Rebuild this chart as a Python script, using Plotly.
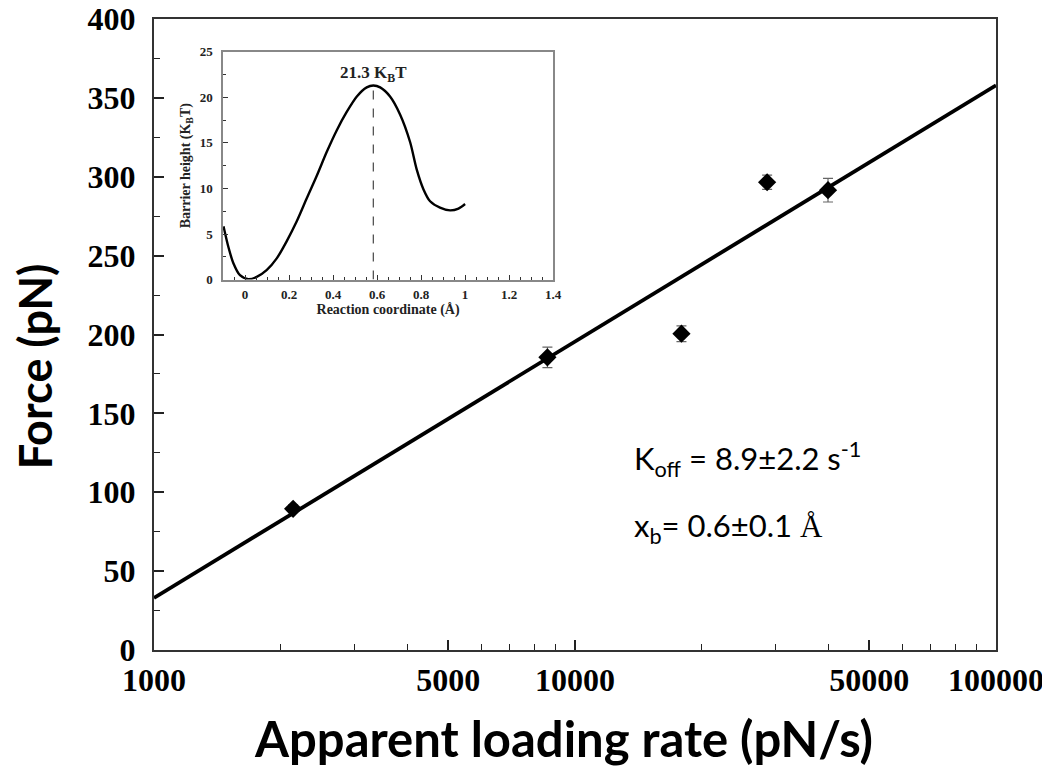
import plotly.graph_objects as go

# Main data: apparent loading rate (pN/s) vs rupture force (pN)
loading_rate = [2140, 8600, 17900, 28600, 39900]
force = [89.5, 185.5, 200.5, 296.5, 291.5]
force_err = [2.5, 6.5, 5.0, 4.5, 7.5]

# Linear fit in log(rate)
fit_rate = [1000, 100000]
fit_force = [33, 358]

# Inset: energy landscape (reaction coordinate in Å, barrier in K_BT)
coord = [-0.098, -0.076, -0.053, -0.023, 0.015, 0.053, 0.098, 0.144, 0.189, 0.235,
         0.28, 0.326, 0.371, 0.417, 0.462, 0.508, 0.553, 0.583, 0.614, 0.659,
         0.705, 0.75, 0.78, 0.811, 0.841, 0.886, 0.932, 0.97, 1.0]
barrier = [5.85, 3.6, 1.8, 0.48, 0.04, 0.3, 1.04, 2.33, 4.2, 6.4,
           8.9, 11.4, 14.0, 16.4, 18.4, 20.1, 21.1, 21.3, 21.1, 20.1,
           18.1, 15.1, 12.1, 9.9, 8.6, 7.9, 7.6, 7.8, 8.3]
peak_x = [0.583, 0.583]
peak_y = [0, 21.3]

x_tickvals = [1000, 5000, 10000, 50000, 100000]
x_minor = [2000, 3000, 4000, 6000, 7000, 8000, 9000,
           20000, 30000, 40000, 60000, 70000, 80000, 90000]
inset_xticks = [0, 0.2, 0.4, 0.6, 0.8, 1, 1.2, 1.4]

serif_b = "Liberation Serif"
sans = "Lato"

fig = go.Figure()

fig.add_trace(go.Scatter(
    x=fit_rate, y=fit_force, mode="lines",
    line=dict(color="black", width=3.8), showlegend=False))

fig.add_trace(go.Scatter(
    x=loading_rate, y=force, mode="markers",
    marker=dict(symbol="diamond", size=14, color="black"),
    error_y=dict(type="data", array=force_err, color="#666", thickness=1.2, width=5),
    showlegend=False))

fig.add_trace(go.Scatter(
    x=coord, y=barrier, mode="lines",
    line=dict(color="black", width=2.4, shape="spline", smoothing=0.8),
    xaxis="x2", yaxis="y2", showlegend=False))

fig.add_trace(go.Scatter(
    x=peak_x, y=peak_y, mode="lines", line=dict(color="#555", width=1.3, dash="dash"),
    xaxis="x2", yaxis="y2", showlegend=False))

fig.update_layout(
    width=1042, height=761,
    margin=dict(l=146, r=54, t=11, b=119),
    paper_bgcolor="white", plot_bgcolor="white",
    xaxis=dict(
        type="log", range=[3, 5], tickvals=x_tickvals,
        ticktext=[str(v) for v in x_tickvals],
        ticks="inside", ticklen=10, tickwidth=1.5, tickcolor="#222",
        minor=dict(tickvals=x_minor, ticks="inside", ticklen=6, tickwidth=1.2, tickcolor="#222"),
        showline=True, linecolor="#333", linewidth=2.2, mirror=True,
        showgrid=False, zeroline=False,
        tickfont=dict(family=serif_b, size=32, color="black", weight="bold"),
        ticklabelstandoff=0, ticklabeloverflow="allow",
        domain=[0, 1], automargin=False,
    ),
    yaxis=dict(
        range=[0, 400], dtick=50,
        ticks="inside", ticklen=10, tickwidth=1.5, tickcolor="#222",
        minor=dict(dtick=25, ticks="inside", ticklen=6, tickwidth=1.2, tickcolor="#222"),
        showline=True, linecolor="#333", linewidth=2.2, mirror=True,
        showgrid=False, zeroline=False,
        tickfont=dict(family=serif_b, size=32, color="black", weight="bold"),
        ticklabelstandoff=10, ticklabeloverflow="allow",
        domain=[0, 1], automargin=False,
    ),
    xaxis2=dict(
        domain=[0.082, 0.474], anchor="y2", range=[-0.1, 1.4],
        tickvals=inset_xticks,
        ticktext=["0", "0.2", "0.4", "0.6", "0.8", "1", "1.2", "1.4"],
        ticks="inside", ticklen=5, tickwidth=1, tickcolor="#333",
        minor=dict(dtick=0.05, tick0=0, ticks="inside", ticklen=3, tickwidth=1, tickcolor="#333"),
        showline=True, linecolor="#888", linewidth=1.5, mirror=True,
        showgrid=False, zeroline=False,
        tickfont=dict(family=serif_b, size=13, color="#222", weight="bold"),
        ticklabelstandoff=2,
        title=dict(text="Reaction coordinate (Å)",
                   font=dict(family=serif_b, size=14, color="#222", weight="bold"),
                   standoff=3),
        automargin=False,
    ),
    yaxis2=dict(
        domain=[0.587, 0.948], anchor="x2", range=[0, 25], dtick=5,
        ticks="inside", ticklen=5, tickwidth=1, tickcolor="#333",
        minor=dict(dtick=2.5, ticks="inside", ticklen=3, tickwidth=1, tickcolor="#333"),
        showline=True, linecolor="#888", linewidth=1.5, mirror=True,
        showgrid=False, zeroline=False,
        tickfont=dict(family=serif_b, size=13, color="#222", weight="bold"),
        ticklabelstandoff=6,
        title=dict(text="Barrier height (K<sub>B</sub>T)",
                   font=dict(family=serif_b, size=14, color="#222", weight="bold"),
                   standoff=6),
        automargin=False,
    ),
)

# Main axis titles
fig.add_annotation(
    x=0.486, y=-0.139, xref="paper", yref="paper", xanchor="center", yanchor="middle",
    text="Apparent loading rate (pN/s)", showarrow=False,
    font=dict(family=sans, size=49, color="black", weight="bold"))
fig.add_annotation(
    x=-0.141, y=0.45, xref="paper", yref="paper", xanchor="center", yanchor="middle",
    text="Force (pN)", showarrow=False, textangle=-90,
    font=dict(family=sans, size=45, color="black", weight="bold"))

fig.add_annotation(
    x=0.583, y=21.3, xref="x2", yref="y2", text="21.3 K<sub>B</sub>T",
    showarrow=False, yanchor="bottom", yshift=-1,
    font=dict(family=serif_b, size=17, color="#222", weight="bold"))
fig.add_annotation(
    x=0.568, y=0.302, xref="paper", yref="paper", xanchor="left", yanchor="middle",
    text="K<sub>off</sub> = 8.9±2.2 s<sup>-1</sup>", showarrow=False,
    font=dict(family=sans, size=31, color="black"))
fig.add_annotation(
    x=0.568, y=0.194, xref="paper", yref="paper", xanchor="left", yanchor="middle",
    text="x<sub>b</sub>= 0.6±0.1 <span style='font-family:Liberation Serif'>Å</span>",
    showarrow=False,
    font=dict(family=sans, size=31, color="black"))

fig.write_html("out.html")
